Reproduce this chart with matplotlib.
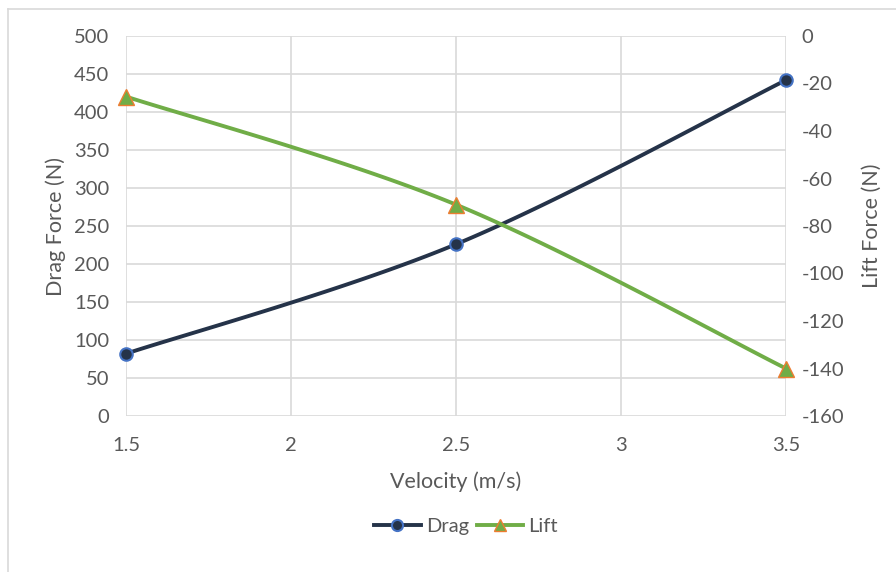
import numpy as np
import matplotlib
matplotlib.use("Agg")
import matplotlib.pyplot as plt
from matplotlib.lines import Line2D

plt.rcParams['font.family'] = ['Lato', 'DejaVu Sans']
plt.rcParams['axes.unicode_minus'] = False

velocity = [1.5, 2.5, 3.5]
drag = [82, 226, 442]
lift = [-25.5, -71, -140]

x_ticks = [1.5, 2, 2.5, 3, 3.5]
x_tick_labels = ["1.5", "2", "2.5", "3", "3.5"]
drag_ticks = list(range(0, 501, 50))
lift_ticks = list(range(-160, 1, 20))

TEXT = '#595959'
GRID = '#d9d9d9'
DRAG_COLOR = '#253349'
LIFT_COLOR = '#70ad47'


def smooth(xs, ys, n=60):
    """Catmull-Rom style smoothing through the given points."""
    p = np.column_stack([xs, ys]).astype(float)
    p = np.vstack([p[0], p, p[-1]])
    out = []
    for i in range(1, len(p) - 2):
        p0, p1, p2, p3 = p[i - 1], p[i], p[i + 1], p[i + 2]
        c1 = p1 + (p2 - p0) / 6.0
        c2 = p2 - (p3 - p1) / 6.0
        t = np.linspace(0, 1, n)[:, None]
        seg = ((1 - t) ** 3) * p1 + 3 * ((1 - t) ** 2) * t * c1 + 3 * (1 - t) * t ** 2 * c2 + t ** 3 * p2
        out.append(seg if i == 1 else seg[1:])
    s = np.vstack(out)
    return s[:, 0], s[:, 1]


fig = plt.figure(figsize=(8.96, 5.72), dpi=100)
W, H = 896, 572
ax = fig.add_axes([126 / W, 1 - 416 / H, (786 - 126) / W, (416 - 36) / H])
ax2 = ax.twinx()

ax.set_xlim(1.5, 3.5)
ax.set_ylim(0, 500)
ax2.set_ylim(-160, 0)

ax.set_xticks(x_ticks)
ax.set_xticklabels(x_tick_labels)
ax.set_yticks(drag_ticks)
ax2.set_yticks(lift_ticks)

for a in (ax, ax2):
    for s in a.spines.values():
        s.set_visible(False)
    a.tick_params(length=0, labelsize=14.5, labelcolor=TEXT)
ax.tick_params(axis='x', pad=15)
ax.tick_params(axis='y', pad=12)
ax2.tick_params(axis='y', pad=11)

ax.grid(True, color=GRID, linewidth=1.2)
ax.set_axisbelow(True)

sx, sy = smooth(velocity, drag)
ax.plot(sx, sy, color=DRAG_COLOR, linewidth=2.8, solid_capstyle='round', zorder=3)
ax.plot(velocity, drag, linestyle='none', marker='o', markersize=9,
        markerfacecolor=DRAG_COLOR, markeredgecolor='#4472c4', markeredgewidth=1.5,
        clip_on=False, zorder=4)

lx, ly = smooth(velocity, lift)
ax2.plot(lx, ly, color=LIFT_COLOR, linewidth=2.8, solid_capstyle='round', zorder=3)
ax2.plot(velocity, lift, linestyle='none', marker='^', markersize=11,
         markerfacecolor=LIFT_COLOR, markeredgecolor='#ed7d31', markeredgewidth=1.0,
         clip_on=False, zorder=4)

ax.set_xlabel("Velocity (m/s)", fontsize=15.5, color=TEXT, labelpad=13)
ax.set_ylabel("Drag Force (N)", fontsize=15.5, color=TEXT, labelpad=6)
ax2.set_ylabel("Lift Force (N)", fontsize=15.5, color=TEXT, rotation=90, labelpad=13)

handles = [
    Line2D([], [], color=DRAG_COLOR, linewidth=2.8, marker='o', markersize=8,
           markerfacecolor=DRAG_COLOR, markeredgecolor='#4472c4', markeredgewidth=1.5),
    Line2D([], [], color=LIFT_COLOR, linewidth=2.8, marker='^', markersize=9,
           markerfacecolor=LIFT_COLOR, markeredgecolor='#ed7d31', markeredgewidth=1.0),
]
fig.legend(handles, ["Drag", "Lift"], loc='center', bbox_to_anchor=(466 / W, 1 - 526 / H),
           ncol=2, frameon=False, fontsize=14.5, labelcolor=TEXT, handlelength=2.3,
           handletextpad=0.25, columnspacing=0.4)

# light frame around the chart
fig.add_artist(Line2D([8 / W, 8 / W], [0, 1 - 9 / H], color='#d9d9d9', linewidth=1.2))
fig.add_artist(Line2D([8 / W, 1], [1 - 9 / H, 1 - 9 / H], color='#d9d9d9', linewidth=1.2))

fig.savefig("out.png", dpi=100, facecolor='white')
